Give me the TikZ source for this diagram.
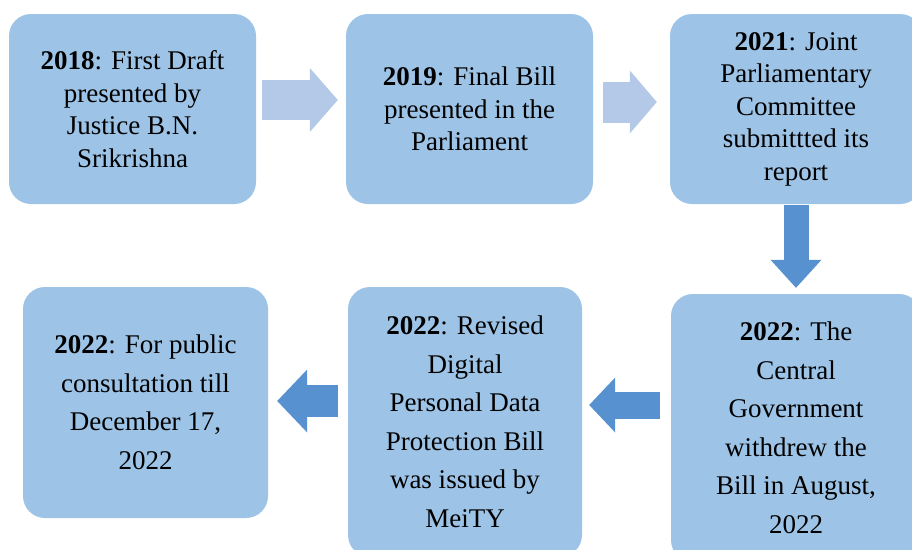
\documentclass[tikz,border=0pt]{standalone}
\usepackage{fontspec}
\setmainfont{Liberation Serif}
\usetikzlibrary{arrows.meta}
\definecolor{boxblue}{RGB}{157,195,230}
\definecolor{paleblue}{RGB}{180,200,232}
\definecolor{darkblue}{RGB}{88,145,208}
\tikzstyle{stage}=[rounded corners=22pt, fill=boxblue, inner sep=0pt, align=center, text=black]
\tikzstyle{toprow}=[stage, minimum width=247pt, minimum height=190pt, font=\fontsize{27}{32.5}\selectfont]
\tikzstyle{bottomrow}=[stage, font=\fontsize{27}{38.5}\selectfont]
\tikzset{blockarrow/.style n args={4}{draw=#1, line width=#2, -{Triangle[width=#3, length=#4, line width=0pt]}}}

\begin{document}
\begin{tikzpicture}[x=1pt, y=-1pt] % pixel units, y downwards
\useasboundingbox (0,0) rectangle (912,549);
\fill[white] (0,0) rectangle (912,549);
\clip (0,0) rectangle (912,549);

\node[toprow] (b1) at (132.5,109) {\textbf{2018}: First Draft\\presented by\\Justice B.N.\\Srikrishna};
\node[toprow] (b2) at (469.5,109) {\textbf{2019}: Final Bill\\presented in the\\Parliament};
\node[toprow, minimum width=252pt] (b3) at (796,109) {\textbf{2021}: Joint\\Parliamentary\\Committee\\submittted its\\report};

\node[bottomrow, minimum width=245pt, minimum height=231pt] (b4) at (145.5,402.5) {\textbf{2022}: For public\\consultation till\\December 17,\\2022};
\node[bottomrow, minimum width=234pt, minimum height=270pt] (b5) at (465,422) {\textbf{2022}: Revised\\Digital\\Personal Data\\Protection Bill\\was issued by\\MeiTY};
\node[bottomrow, minimum width=250pt, minimum height=268pt] (b6) at (796,428) {\textbf{2022}: The\\Central\\Government\\withdrew the\\Bill in August,\\2022};

% colour, shaft, head width, head length
\draw[blockarrow={paleblue}{40pt}{64pt}{28pt}, shorten <=6pt, shorten >=8pt] ([yshift=9pt]b1.east) -- ([yshift=9pt]b2.west);
\draw[blockarrow={paleblue}{41pt}{63pt}{27pt}, shorten <=10pt, shorten >=13pt] ([yshift=7pt]b2.east) -- ([yshift=7pt]b3.west);
\draw[blockarrow={darkblue}{25pt}{51pt}{28pt}, shorten <=1pt, shorten >=6pt] (b3.south) -- (b6.north);
\draw[blockarrow={darkblue}{27pt}{55pt}{26pt}, shorten <=11pt, shorten >=7pt] ([yshift=23pt]b6.west) -- ([yshift=23pt]b6.west -| b5.east);
\draw[blockarrow={darkblue}{32pt}{63pt}{30pt}, shorten <=10pt, shorten >=9pt] ([yshift=21pt]b5.west) -- ([yshift=21pt]b5.west -| b4.east);
\end{tikzpicture}
\end{document}
